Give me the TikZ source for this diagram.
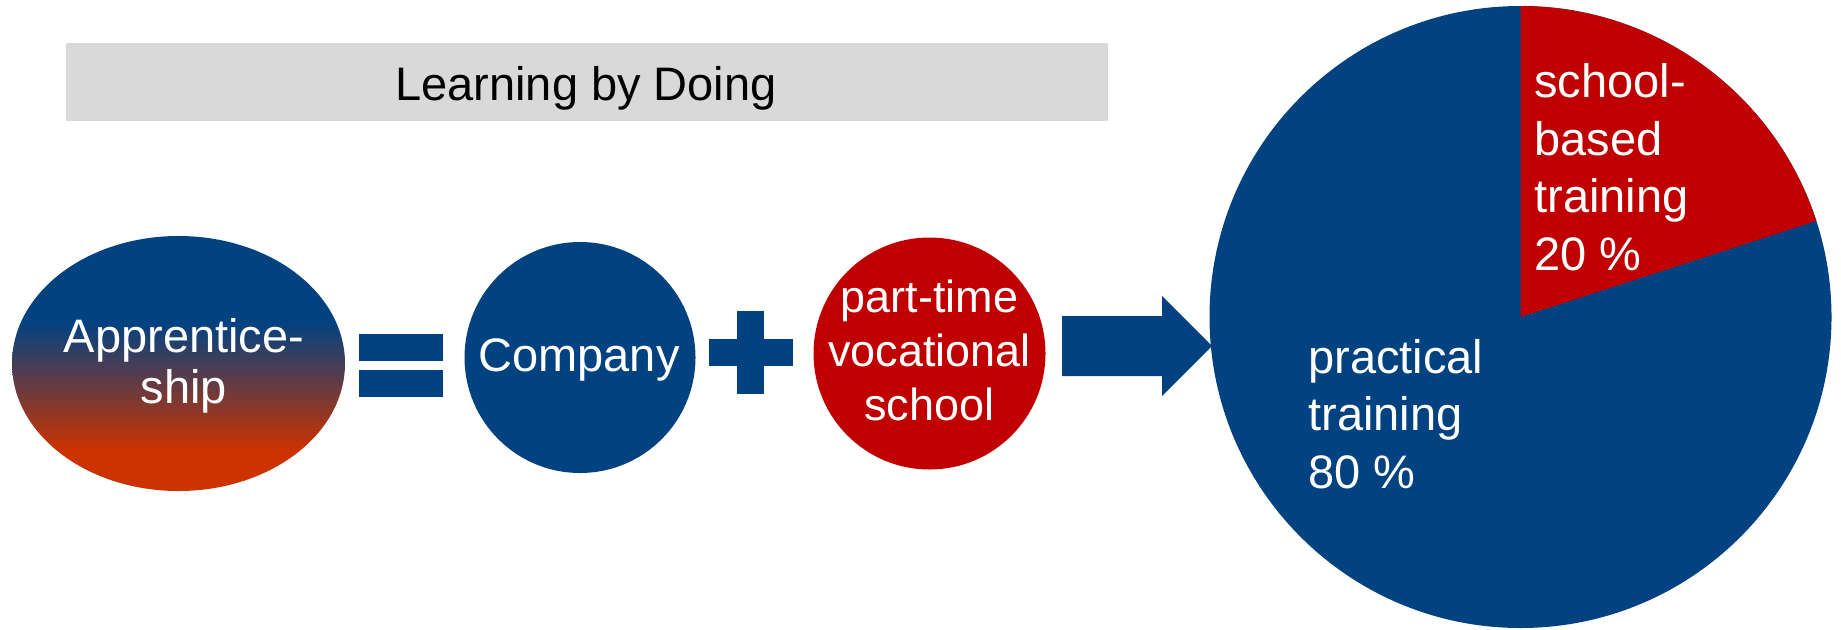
\documentclass[tikz,border=0pt]{standalone}
\usepackage{fontspec}
\setmainfont{Liberation Sans}
\usetikzlibrary{positioning}

\definecolor{dblue}{RGB}{3,66,128}
\definecolor{dred}{RGB}{192,0,0}
\definecolor{dorange}{RGB}{204,51,0}
\definecolor{lgray}{RGB}{217,217,217}
\pgfdeclareverticalshading{apprshade}{100bp}{color(0bp)=(dorange); color(33bp)=(dorange); color(58bp)=(dblue); color(100bp)=(dblue)}

\begin{document}
\begin{tikzpicture}[x=0.02cm, y=0.02cm,
  every node/.style={inner sep=0pt, font=\fontsize{26.75}{32.7}\selectfont},
  wlabel/.style={text=white, align=center}]
    \useasboundingbox (0,0) rectangle (1841,-629);

    % Banner
    \fill[lgray] (66,-43) rectangle (1108,-121);
    \node[anchor=base] (title) at (586,-100) {Learning by Doing};

    % Apprenticeship = Company + school
    \shade[shading=apprshade] (178.5,-363.5) ellipse (166.5 and 127.5);
    \node[wlabel, anchor=base, font=\fontsize{26.75}{29}\selectfont] (appr) at (184,-403) {Apprentice-\\ship};

    \fill[dblue] (359,-334) rectangle (443,-361);
    \fill[dblue] (359,-370) rectangle (443,-397);

    \fill[dblue] (580,-357.5) circle (115.5);
    \node[wlabel, anchor=base] (company) at (579,-371) {Company};

    \fill[dblue] (709,-339) rectangle (793,-366);
    \fill[dblue] (737,-311) rectangle (764,-394);

    \fill[dred] (929.5,-353.5) circle (116);
    \node[wlabel, anchor=base, font=\fontsize{25.6}{30.7}\selectfont] (school) at (929.5,-420) {part-time\\vocational\\school};

    % Arrow
    \fill[dblue] (1062,-316) -- (1162,-316) -- (1162,-296) -- (1212,-346)
        -- (1162,-396) -- (1162,-376) -- (1062,-376) -- cycle;

    % Pie
    \coordinate (P) at (1520.5,-317);
    \fill[dblue] (P) circle (311);
    \fill[dred] (P) -- ++(90:311) arc (90:18:311) -- cycle;
    \node[wlabel, align=left, anchor=base west] (sbased) at (1534,-270) {school-\\based\\training\\20 \%};
    \node[wlabel, align=left, anchor=base west] (practical) at (1308,-488) {practical\\training\\80 \%};
\end{tikzpicture}
\end{document}
